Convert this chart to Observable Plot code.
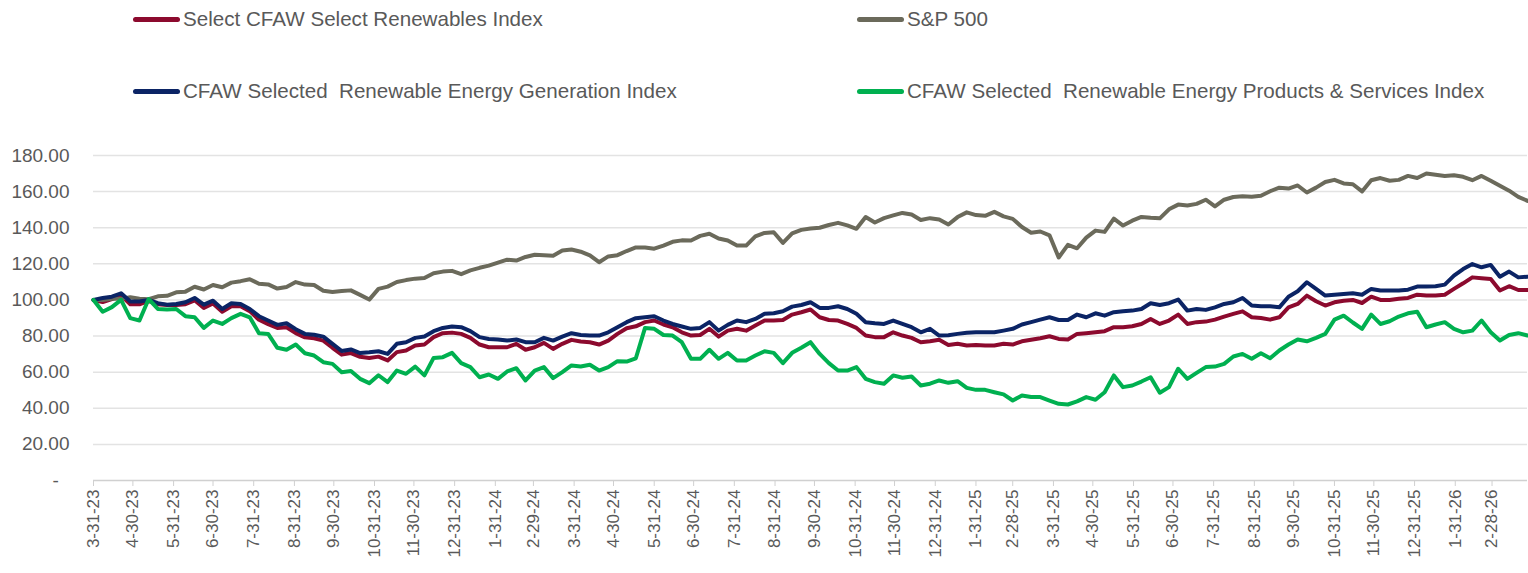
<!DOCTYPE html>
<html><head><meta charset="utf-8">
<script src="https://cdn.jsdelivr.net/npm/d3@7"></script>
<script src="https://cdn.jsdelivr.net/npm/@observablehq/plot@0.6"></script>
<style>
body{margin:0;background:#fff;font-family:"Liberation Sans",Arial,sans-serif;}
#wrap{position:relative;width:1528px;height:573px;overflow:hidden;}
.leg{position:absolute;display:flex;align-items:center;height:30px;font-size:20.6px;color:#595959;white-space:pre;}
.sw{display:inline-block;width:47px;height:5px;border-radius:3px;margin-right:3px;}
#chart{position:absolute;left:0;top:140px;}
</style></head><body>
<div id="wrap"><div id="legend"></div><div id="chart"></div></div>
<script>
// Weekly observations, first week ending 3-31-23
const startDate = "2023-03-31";
const seriesNames = [
  "Select CFAW Select Renewables Index",
  "S&P 500",
  "CFAW Selected  Renewable Energy Generation Index",
  "CFAW Selected  Renewable Energy Products & Services Index"
];
const seriesColors = ["#8C0A2E", "#6B6A5B", "#0B2465", "#00B050"];

const renewables = [100,98.8,100.5,102.5,97.6,97.6,99.5,97.6,97.2,97.2,97.6,99.8,95.6,98.0,93.5,96.5,96.5,93.8,89.0,86.6,
84.5,84.9,81.6,79.3,78.8,77.5,73.5,69.7,70.6,68.5,67.9,68.6,66.5,71.1,72.0,74.8,75.3,79.4,81.6,81.9,
81.2,79.0,75.3,73.8,73.8,73.8,75.7,72.4,73.8,76.2,72.9,75.7,77.9,77.0,76.6,75.3,77.5,81.2,84.3,85.4,
87.7,88.6,86.4,84.9,82.1,80.3,80.6,84.0,79.7,83.0,84.0,83.0,85.8,88.6,88.6,88.9,91.9,93.2,94.7,90.4,
88.9,88.6,86.7,84.5,80.3,79.4,79.4,82.1,80.3,79.0,76.6,77.1,77.9,75.1,75.7,74.8,75.1,74.8,74.8,75.7,
75.3,77.1,77.9,78.8,79.9,78.4,78.1,81.2,81.6,82.1,82.7,84.9,84.9,85.4,86.7,89.5,86.7,88.6,91.9,86.7,
87.7,88.0,89.1,90.8,92.3,93.7,90.4,90.0,89.1,90.4,95.9,97.8,102.4,99.3,96.9,98.7,99.6,100.0,98.3,101.8,
100.0,100.0,100.6,101.1,102.9,102.4,102.4,102.9,106.1,109.2,112.5,112.0,111.6,105.2,107.6,105.5,105.5];

const sp500 = [100,99.9,100.7,100.6,101.5,100.7,100.4,102.0,102.3,104.2,104.6,107.3,105.8,108.3,107.0,109.6,110.4,111.5,109.0,108.6,
106.3,107.2,109.9,108.5,108.3,105.1,104.4,104.9,105.3,102.8,100.2,106.1,107.4,109.9,111.0,111.8,112.1,114.8,115.7,116.1,
114.3,116.4,117.8,119.0,120.7,122.3,121.8,123.8,125.0,124.7,124.5,127.4,127.9,126.7,124.7,120.9,124.1,124.8,127.1,129.1,
129.1,128.4,130.1,132.2,133.0,132.9,135.5,136.7,134.0,132.9,130.1,130.1,135.2,137.1,137.5,131.6,136.9,138.8,139.6,140.0,
141.5,142.7,141.3,139.4,145.9,142.9,145.3,146.8,148.2,147.3,144.3,145.3,144.6,141.8,145.9,148.5,147.0,146.6,148.8,146.3,
144.9,140.4,137.2,137.9,135.8,123.5,130.5,128.6,134.5,138.4,137.7,145.0,141.2,143.9,146.0,145.5,145.2,150.2,152.8,152.3,
153.2,155.5,151.8,155.5,157.0,157.4,157.2,157.7,160.2,162.2,161.7,163.4,159.5,162.2,165.3,166.5,164.5,164.1,160.1,166.3,
167.5,166.0,166.5,168.7,167.5,170.0,169.3,168.7,169.1,168.2,166.3,168.7,166.0,163.2,160.5,157.1,154.9];

const generation = [100,101.1,101.8,103.7,99.1,99.1,100,98.2,97.4,97.8,98.7,101.1,97.4,99.6,95.0,98.2,97.8,95.0,91.0,88.6,
86.2,87.1,83.8,81.2,80.7,79.7,75.7,71.7,72.6,70.6,71.0,71.6,70.1,75.7,76.6,79.0,79.7,82.7,84.5,85.3,
84.9,82.7,79.4,78.4,78.1,77.5,78.1,76.6,76.6,79.0,77.5,79.7,81.6,80.6,80.3,80.3,82.1,84.9,87.7,89.9,
90.4,91.0,88.6,86.7,85.3,84.0,84.5,87.7,83.0,86.2,88.6,87.7,89.5,92.3,92.6,93.7,96.3,97.2,98.7,95.6,
95.6,96.5,95.0,92.3,87.7,87.1,86.7,88.6,86.7,84.9,82.1,84.0,80.3,80.5,81.2,81.8,82.1,82.1,82.1,83.0,
84.0,86.4,87.7,89.1,90.4,88.9,88.9,91.9,90.4,92.6,91.3,93.2,93.7,94.1,95.0,98.2,97.2,98.2,100.2,94.1,
95.0,94.5,95.9,97.8,98.7,101.1,96.9,96.5,96.5,95.9,101.8,104.8,109.8,106.1,102.4,102.9,103.3,103.7,102.9,106.1,
105.2,105.2,105.2,105.7,107.4,107.4,107.6,108.5,113.5,117.1,119.9,118.1,119.4,112.9,115.7,112.5,112.9];

const products = [100,93.5,96.0,100.0,89.9,88.6,100.5,95.0,94.7,95.0,91.0,90.4,84.5,88.6,86.7,89.9,92.3,90.4,81.6,81.2,
73.5,72.4,75.3,70.5,69.2,65.5,64.6,60.0,60.6,56.3,53.9,58.3,54.5,60.9,59.1,63.1,58.2,67.9,68.3,70.7,
65.0,62.8,57.2,58.7,56.3,60.4,62.2,55.4,60.9,62.8,56.7,60.0,63.7,63.1,64.1,60.9,62.8,66.1,65.9,67.7,
84.5,84.0,80.6,80.3,76.6,67.4,67.4,72.4,67.4,70.7,66.5,66.5,69.2,71.6,70.7,65.0,70.7,73.5,76.6,70.1,
65.0,60.9,60.9,62.8,56.3,54.5,53.6,58.2,56.9,57.6,52.6,53.6,55.4,54.1,55.0,51.3,50.2,50.2,48.9,47.7,
44.3,47.1,46.2,46.2,44.3,42.5,42.1,43.8,46.2,44.7,48.9,58.2,51.7,52.6,54.8,57.2,48.6,51.7,61.9,56.3,
59.6,62.8,63.1,64.6,68.7,70.1,67.4,70.5,67.7,72.0,75.3,78.1,77.1,79.0,81.2,89.1,91.3,87.5,84.0,91.9,
86.7,88.2,90.8,92.6,93.5,84.9,86.4,87.7,84.0,82.1,83.0,88.6,82.1,77.5,80.6,81.6,80.3];

const tickLabels = ["3-31-23","4-30-23","5-31-23","6-30-23","7-31-23","8-31-23","9-30-23","10-31-23","11-30-23","12-31-23",
"1-31-24","2-29-24","3-31-24","4-30-24","5-31-24","6-30-24","7-31-24","8-31-24","9-30-24","10-31-24","11-30-24","12-31-24",
"1-31-25","2-28-25","3-31-25","4-30-25","5-31-25","6-30-25","7-31-25","8-31-25","9-30-25","10-31-25","11-30-25","12-31-25",
"1-31-26","2-28-26"];
const yTicks = [0,20,40,60,80,100,120,140,160,180];

// ---- build ----
const parseLabel = s => { const [m,d,y] = s.split("-").map(Number); return new Date(Date.UTC(2000+y, m-1, d)); };
const tickDates = tickLabels.map(parseLabel);
const labelOf = new Map(tickDates.map((d,i)=>[+d, tickLabels[i]]));
const t0 = new Date(startDate + "T00:00:00Z");
const dates = sp500.map((_, i) => d3.utcDay.offset(t0, 7*i));
const seriesVals = [renewables, sp500, generation, products];
const rows = [];
seriesVals.forEach((vals, s) => vals.forEach((v, i) => rows.push({date: dates[i], value: v, series: seriesNames[s]})));

// legend
const legendPos = [[133,4],[857,4],[133,76],[857,76]];
const leg = document.getElementById("legend");
seriesNames.forEach((n,i)=>{
  const el = document.createElement("div");
  el.className = "leg";
  el.style.left = legendPos[i][0]+"px"; el.style.top = legendPos[i][1]+"px";
  el.innerHTML = `<span class="sw" style="background:${seriesColors[i]}"></span>`;
  el.appendChild(document.createTextNode(n));
  leg.appendChild(el);
});

const chart = Plot.plot({
  width: 1528, height: 433,
  marginLeft: 93, marginRight: 1, marginTop: 15, marginBottom: 93,
  style: {fontFamily: '"Liberation Sans", Arial, sans-serif', background: "#fff"},
  x: {type: "utc", domain: [dates[0], dates[dates.length-1]]},
  y: {domain: [0, 180]},
  marks: [
    Plot.gridY(yTicks.filter(d=>d>0), {stroke: "#e3e3e3", strokeOpacity: 1, strokeWidth: 1.5}),
    Plot.ruleY([0], {stroke: "#d0d0d0", strokeWidth: 1.5}),
    Plot.axisY(yTicks, {tickSize: 0, tickPadding: 24, fontSize: 19, fill: "#595959", label: null,
      tickFormat: d => d === 0 ? "-\u2007" : d.toFixed(2)}),
    Plot.axisX(tickDates, {tickSize: 6, tickPadding: 3, tickRotate: -90, fontSize: 17, label: null,
      stroke: "#d0d0d0", fill: "#595959", tickFormat: d => labelOf.get(+d)}),
    ...seriesNames.map((n, s) => Plot.lineY(rows.filter(r => r.series === n),
      {x: "date", y: "value", stroke: seriesColors[s], strokeWidth: 4, strokeLinejoin: "round", strokeLinecap: "round"}))
  ]
});
document.getElementById("chart").appendChild(chart);
</script>
</body></html>
